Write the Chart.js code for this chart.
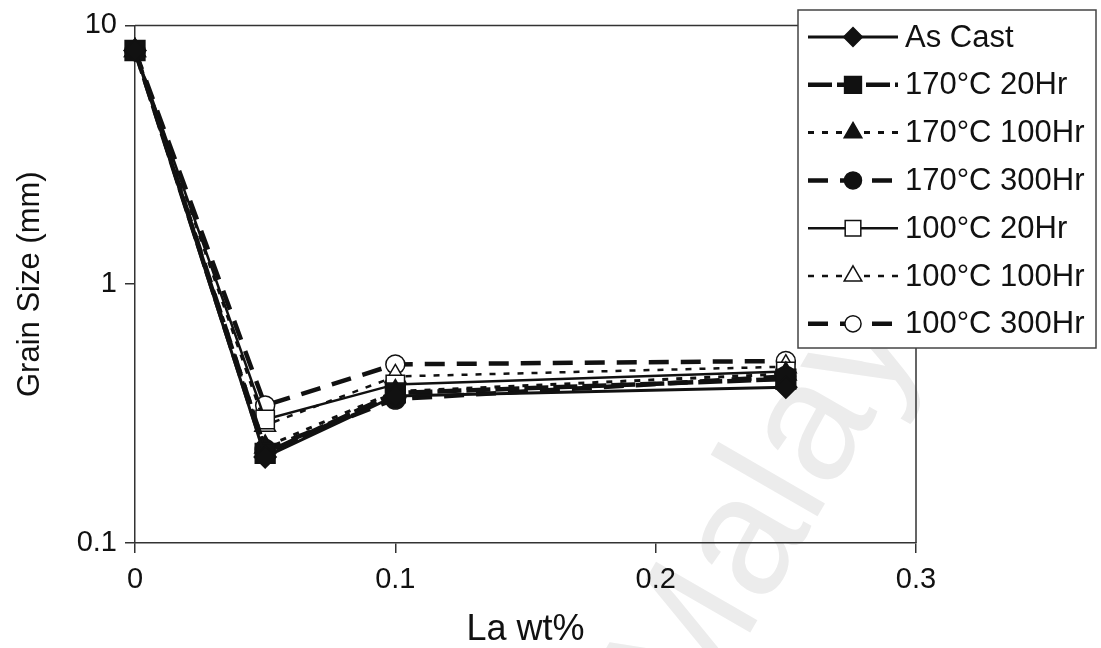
<!DOCTYPE html>
<html lang="en">
<head>
<meta charset="UTF-8">
<title>Grain Size vs La wt%</title>
<script src="https://cdn.jsdelivr.net/npm/chart.js"></script>
<style>
  html, body { margin: 0; padding: 0; background: #fff; }
  #wrap { width: 1101px; height: 648px; }
</style>
</head>
<body>
<div id="wrap"><canvas id="grafico" width="1101" height="648"></canvas></div>
<script>
  // La content (wt%) and grain size (mm)
  const laWt = [0, 0.05, 0.1, 0.25];
  const asCast = [8.0, 0.215, 0.37, 0.40];
  const t170h20 = [8.0, 0.222, 0.38, 0.43];
  const t170h100 = [8.0, 0.235, 0.385, 0.45];
  const t170h300 = [8.0, 0.23, 0.36, 0.44];
  const t100h20 = [8.0, 0.30, 0.41, 0.46];
  const t100h100 = [8.0, 0.285, 0.44, 0.48];
  const t100h300 = [8.0, 0.34, 0.49, 0.505];
  const xTicks = [0, 0.1, 0.2, 0.3];
  const yTicks = [0.1, 1, 10];

  const preto = '#111';
  const fonte = '"Liberation Sans", Arial, sans-serif';

  function serie(label, valores, estilo) {
    return Object.assign({
      label,
      data: laWt.map((x, i) => ({ x, y: valores[i] })),
      borderColor: preto,
      backgroundColor: preto,
      pointBorderColor: preto,
      pointBackgroundColor: preto,
      pointBorderWidth: 1.5,
      tension: 0,
      clip: false
    }, estilo);
  }

  const datasets = [
    serie('As Cast', asCast, { borderWidth: 3, pointStyle: 'rectRot', pointRadius: 11 }),
    serie('170°C 20Hr', t170h20, { borderWidth: 4.5, borderDash: [24, 5], pointStyle: 'rect', pointRadius: 14 }),
    serie('170°C 100Hr', t170h100, { borderWidth: 3, borderDash: [6, 8], pointStyle: 'triangle', pointRadius: 12 }),
    serie('170°C 300Hr', t170h300, { borderWidth: 4.5, borderDash: [20, 12], pointStyle: 'circle', pointRadius: 10 }),
    serie('100°C 20Hr', t100h20, { borderWidth: 2.5, pointStyle: 'rect', pointRadius: 13, pointBackgroundColor: '#fff' }),
    serie('100°C 100Hr', t100h100, { borderWidth: 2.5, borderDash: [6, 8], pointStyle: 'triangle', pointRadius: 12, pointBackgroundColor: '#fff' }),
    serie('100°C 300Hr', t100h300, { borderWidth: 4.5, borderDash: [20, 12], pointStyle: 'circle', pointRadius: 9.5, pointBackgroundColor: '#fff' })
  ];
  datasets.forEach(d => { d.pointHoverRadius = d.pointRadius; });

  // mesmo desenho dos marcadores do Chart.js, para a legenda
  function desenharMarcador(ctx, estilo, x, y, r, fundo) {
    ctx.save();
    ctx.beginPath();
    if (estilo === 'rectRot') {
      ctx.moveTo(x, y - r); ctx.lineTo(x + r, y); ctx.lineTo(x, y + r); ctx.lineTo(x - r, y);
      ctx.closePath();
    } else if (estilo === 'rect') {
      const s = r * Math.SQRT1_2;
      ctx.rect(x - s, y - s, 2 * s, 2 * s);
    } else if (estilo === 'triangle') {
      const w = r * Math.sqrt(3) / 2;
      ctx.moveTo(x, y - r); ctx.lineTo(x + w, y + r / 2); ctx.lineTo(x - w, y + r / 2);
      ctx.closePath();
    } else {
      ctx.arc(x, y, r, 0, Math.PI * 2);
    }
    ctx.fillStyle = fundo;
    ctx.fill();
    ctx.lineWidth = 1.5;
    ctx.strokeStyle = preto;
    ctx.stroke();
    ctx.restore();
  }

  // moldura, legenda e marca d'água
  const extras = {
    id: 'extras',
    beforeDraw(chart) {
      const ctx = chart.ctx;
      ctx.save();
      ctx.translate(790, 470);
      ctx.rotate(-Math.PI / 3);
      ctx.font = '170px ' + fonte;
      ctx.fillStyle = '#ececec';
      ctx.textAlign = 'center';
      ctx.textBaseline = 'middle';
      ctx.fillText('Malaya', 0, 0);
      ctx.restore();
    },
    afterDraw(chart) {
      const ctx = chart.ctx;
      const a = chart.chartArea;
      ctx.save();
      ctx.strokeStyle = '#333';
      ctx.lineWidth = 1.5;
      ctx.beginPath();
      ctx.moveTo(a.left, a.top); ctx.lineTo(a.right, a.top); ctx.lineTo(a.right, a.bottom);
      ctx.stroke();

      // legenda
      const bx = 798, by = 10, bw = 298, bh = 338;
      ctx.fillStyle = '#fff';
      ctx.fillRect(bx, by, bw, bh);
      ctx.strokeStyle = '#444';
      ctx.lineWidth = 1.5;
      ctx.strokeRect(bx, by, bw, bh);
      chart.data.datasets.forEach((ds, i) => {
        const y = 37 + i * 47.8;
        ctx.save();
        ctx.strokeStyle = preto;
        ctx.lineWidth = ds.borderWidth;
        ctx.setLineDash(ds.borderDash || []);
        ctx.beginPath();
        ctx.moveTo(808, y); ctx.lineTo(898, y);
        ctx.stroke();
        ctx.restore();
        desenharMarcador(ctx, ds.pointStyle, 853, y, ds.pointRadius * 0.85, ds.pointBackgroundColor);
        ctx.fillStyle = preto;
        ctx.font = '31px ' + fonte;
        ctx.textAlign = 'left';
        ctx.textBaseline = 'middle';
        ctx.fillText(ds.label, 905, y + 1);
      });
      ctx.restore();
    }
  };

  new Chart(document.getElementById('grafico'), {
    type: 'line',
    data: { datasets },
    plugins: [extras],
    options: {
      responsive: false,
      animation: false,
      layout: { padding: { top: 22, right: 185, left: 0, bottom: 0 } },
      plugins: { legend: { display: false }, tooltip: { enabled: false } },
      scales: {
        x: {
          type: 'linear',
          min: 0,
          max: 0.3,
          afterBuildTicks: s => { s.ticks = xTicks.map(v => ({ value: v })); },
          afterFit: s => { s.height = 105; },
          ticks: {
            callback: v => String(Number(v.toFixed(2))),
            color: preto,
            font: { family: fonte, size: 29 },
            padding: 10,
            maxRotation: 0
          },
          grid: { drawOnChartArea: false, drawTicks: true, tickLength: 10, color: '#333', lineWidth: 1.5 },
          border: { color: '#333', width: 1.5 },
          title: { display: true, text: 'La wt%', color: preto, font: { family: fonte, size: 36, lineHeight: 1.0 }, padding: { top: 10, bottom: 0 } }
        },
        y: {
          type: 'logarithmic',
          min: 0.1,
          max: 10,
          afterBuildTicks: s => { s.ticks = yTicks.map(v => ({ value: v })); },
          afterFit: s => { s.width = 135; },
          ticks: {
            callback: v => String(v),
            color: preto,
            font: { family: fonte, size: 29 },
            padding: 8
          },
          grid: { drawOnChartArea: false, drawTicks: true, tickLength: 10, color: '#333', lineWidth: 1.5 },
          border: { color: '#333', width: 1.5 },
          title: { display: true, text: 'Grain Size (mm)', color: preto, font: { family: fonte, size: 31 }, padding: { top: 12, bottom: 10 } }
        }
      }
    }
  });
</script>
</body>
</html>
